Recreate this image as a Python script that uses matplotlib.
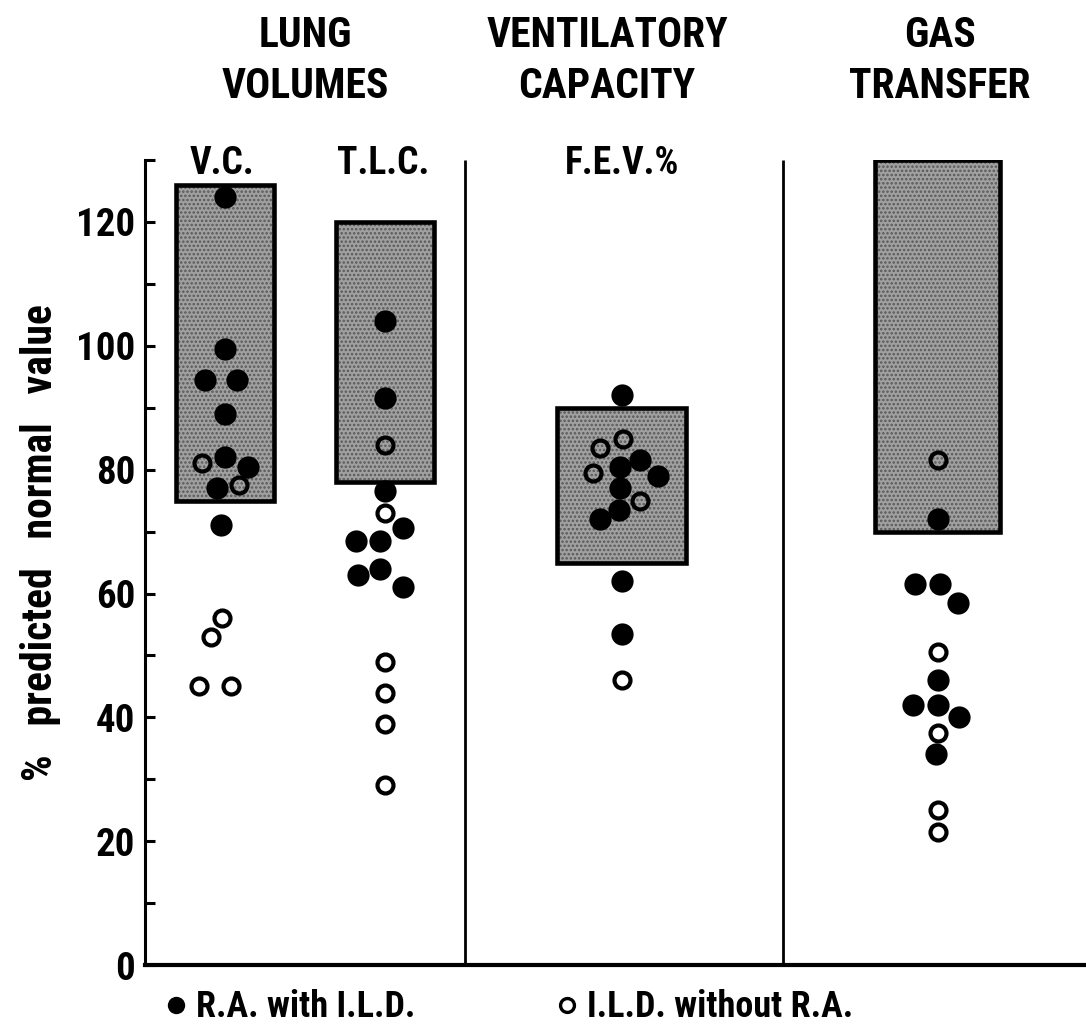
import matplotlib
matplotlib.use("Agg")
import matplotlib.pyplot as plt
from matplotlib import font_manager
from matplotlib.lines import Line2D
from matplotlib.transforms import blended_transform_factory
import numpy as np

# ---- data: % of predicted normal value ----
columns = ["V.C.", "T.L.C.", "F.E.V.%", "GAS TRANSFER"]

# normal ranges (shaded boxes)
normal_low = [75, 78, 65, 70]
normal_high = [126, 120, 90, 130]

# R.A. with I.L.D. (filled circles)
vc_ra = [124, 99.5, 94.5, 94.5, 89, 82, 80.5, 77, 71]
tlc_ra = [104, 91.5, 76.5, 70.5, 68.5, 68.5, 64, 63, 61]
fev_ra = [92, 81.5, 80.5, 79, 77, 73.5, 72, 62, 53.5]
gt_ra = [72, 61.5, 61.5, 58.5, 46, 42, 42, 40, 34]

# I.L.D. without R.A. (open circles)
vc_ild = [81, 77.5, 56, 53, 45, 45]
tlc_ild = [84, 73, 49, 44, 39, 29]
fev_ild = [85, 83.5, 79.5, 75, 46]
gt_ild = [81.5, 50.5, 37.5, 25, 21.5]

# ---- layout ----
col_x = [0.80, 2.40, 4.77, 7.93]
box_width = [0.98, 0.98, 1.29, 1.25]
dividers = [3.20, 6.38]

# horizontal spread of coincident points within a column
vc_ra_dx = [0, 0, -0.20, 0.12, 0, 0, 0.23, -0.08, -0.04]
tlc_ra_dx = [0, 0, 0, 0.18, -0.29, -0.05, -0.05, -0.27, 0.18]
fev_ra_dx = [0, 0.18, -0.02, 0.36, -0.02, -0.03, -0.22, 0, 0]
gt_ra_dx = [0, -0.23, 0.02, 0.20, 0, -0.25, 0, 0.21, -0.02]
vc_ild_dx = [-0.23, 0.14, -0.03, -0.14, -0.26, 0.06]
tlc_ild_dx = [0, 0, 0, 0, 0, 0]
fev_ild_dx = [0.01, -0.22, -0.29, 0.18, 0]
gt_ild_dx = [0, 0, 0, 0, 0]

ra_sets = [(vc_ra, vc_ra_dx), (tlc_ra, tlc_ra_dx), (fev_ra, fev_ra_dx), (gt_ra, gt_ra_dx)]
ild_sets = [(vc_ild, vc_ild_dx), (tlc_ild, tlc_ild_dx), (fev_ild, fev_ild_dx), (gt_ild, gt_ild_dx)]

# ---- font: a narrow bold sans if available ----
available = {f.name for f in font_manager.fontManager.ttflist}
narrow = None
for cand in ["Liberation Sans Narrow", "DejaVu Sans Condensed", "Roboto Condensed", "Open Sans Condensed"]:
    if cand in available:
        narrow = cand
        break
family = [narrow, "DejaVu Sans"] if narrow else ["DejaVu Sans"]
plt.rcParams["font.family"] = family
plt.rcParams["font.weight"] = "bold"
plt.rcParams["hatch.linewidth"] = 1.2

fig = plt.figure(figsize=(10.86, 10.32), dpi=100)
ax = fig.add_axes([0.1335, 0.0649, 0.8665, 0.780])
ax.set_xlim(0, 9.41)
ax.set_ylim(0, 130)

# shaded normal ranges
heights = np.array(normal_high) - np.array(normal_low)
ax.bar(col_x, heights, bottom=normal_low, width=box_width, color="#a0a0a0",
       edgecolor="#585858", hatch="....", linewidth=0, zorder=1)
ax.bar(col_x, heights, bottom=normal_low, width=box_width, fill=False,
       edgecolor="black", linewidth=3.3, zorder=2)

# section dividers
ax.vlines(dividers, 0, 130, colors="black", linewidth=2.0, zorder=2)

# points
for cx, (vals, dx) in zip(col_x, ild_sets):
    ax.plot(cx + np.array(dx), vals, "o", ms=11.5, mfc="none", mec="black",
            mew=3.0, ls="none", clip_on=False, zorder=3)
for cx, (vals, dx) in zip(col_x, ra_sets):
    ax.plot(cx + np.array(dx), vals, "o", ms=16, color="black", mew=0,
            ls="none", clip_on=False, zorder=4)

# axes styling
for s in ["top", "right"]:
    ax.spines[s].set_visible(False)
ax.spines["left"].set_linewidth(2.2)
ax.spines["bottom"].set_linewidth(3.0)
ax.set_xticks([])
ax.set_yticks([0, 20, 40, 60, 80, 100, 120])
ax.set_yticks([10, 30, 50, 70, 90, 110, 130], minor=True)
ax.tick_params(axis="y", which="both", direction="in", length=7, width=2.2,
               labelsize=28, pad=7)
for lab in ax.get_yticklabels():
    lab.set_fontweight("bold")

blend = blended_transform_factory(ax.transData, fig.transFigure)

# column captions
sub_labels = ["V.C.", "T.L.C.", "F.E.V.%"]
sub_x = [0.77, 2.38, 4.77]
for sx, txt in zip(sub_x, sub_labels):
    ax.text(sx, 0.842, txt, transform=blend, ha="center", va="center",
            fontsize=27, fontweight="bold")

group_labels = ["LUNG\nVOLUMES", "VENTILATORY\nCAPACITY", "GAS\nTRANSFER"]
group_x = [1.60, 4.62, 7.95]
for gx, txt in zip(group_x, group_labels):
    ax.text(gx, 0.941, txt, transform=blend, ha="center", va="center",
            fontsize=30, fontweight="bold", linespacing=1.32)

fig.text(0.037, 0.474, "%   predicted   normal   value", rotation=90,
         ha="center", va="center", fontsize=30, fontweight="bold")

# legend
handles = [
    Line2D([], [], marker="o", ls="none", color="black", ms=12.5, mew=0),
    Line2D([], [], marker="o", ls="none", mfc="none", mec="black", ms=10, mew=2.4),
]
fig.legend(handles, ["R.A. with I.L.D.", "I.L.D. without R.A."], ncol=2,
           loc="center left", bbox_to_anchor=(0.152, 0.024), frameon=False,
           handlelength=0.6, handletextpad=0.25, columnspacing=3.9,
           prop={"size": 26, "weight": "bold"}, borderpad=0, borderaxespad=0)

fig.savefig("out.png", dpi=100)
